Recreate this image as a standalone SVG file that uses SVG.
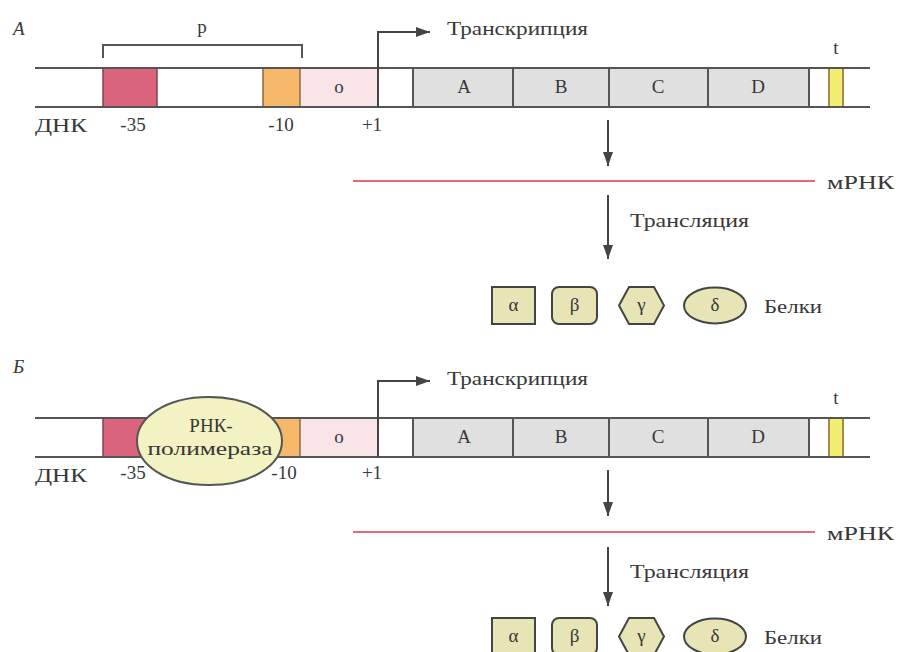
<svg xmlns="http://www.w3.org/2000/svg" width="897" height="652" viewBox="0 0 897 652">
<defs>
<style>
.t{font-family:"Liberation Serif","DejaVu Serif",serif;fill:#383838;font-size:19px}
.it{font-style:italic}
.c{text-anchor:middle}
.ln{stroke:#555;stroke-width:2;fill:none}
.gene{fill:#e0e0e0}
.p35{fill:#d9647c;stroke:#7c4452;stroke-width:1.5}
.p10{fill:#f6b96c;stroke:#8a6a40;stroke-width:1.5}
.op{fill:#f9e4e8}
.term{fill:#f1ee72;stroke:#a88a48;stroke-width:2}
.mrna{stroke:#e36a78;stroke-width:2}
.arr{stroke:#444;stroke-width:2;fill:none}
.prot{fill:#e7e5b5;stroke:#444;stroke-width:2}
.pol{fill:#f3f2c2;stroke:#555;stroke-width:2}
</style>
<marker id="ah" viewBox="0 0 14 10" refX="14" refY="5" markerWidth="14" markerHeight="10" markerUnits="userSpaceOnUse" orient="auto">
<path d="M0,0 L14,5 L0,10 Z" fill="#444"/>
</marker>
</defs>
<rect width="897" height="652" fill="#fff"/>

<!-- Panel A -->
<text class="t it" x="13" y="35" font-size="20">А</text>
<g id="A-promoter">
<path class="ln" d="M103,58 V45 H302 V58"/>
<text class="t c" x="202" y="33">р</text>
</g>
<g id="A-dna">
<rect class="p35" x="103" y="68" width="54" height="39"/>
<rect class="p10" x="263" y="68" width="37" height="39"/>
<rect class="op" x="301" y="68" width="76" height="39"/>
<rect class="gene" x="413" y="68" width="396" height="39"/>
<rect class="term" x="829" y="68" width="14" height="39"/>
<line class="ln" x1="35" y1="68" x2="870" y2="68"/>
<line class="ln" x1="35" y1="107" x2="870" y2="107"/>
<path class="ln" d="M413,68V107 M513,68V107 M609,68V107 M708,68V107 M809,68V107"/>
<text class="t c" x="339" y="93">o</text>
<text class="t c" x="464" y="93">A</text>
<text class="t c" x="561" y="93">B</text>
<text class="t c" x="658" y="93">C</text>
<text class="t c" x="758" y="93">D</text>
<text class="t c" x="836" y="54">t</text>
<text class="t" x="35" y="132" textLength="52" lengthAdjust="spacingAndGlyphs">ДНК</text>
<text class="t c" x="133" y="131" font-size="18">-35</text>
<text class="t c" x="281" y="131" font-size="18">-10</text>
<text class="t c" x="372" y="131" font-size="18">+1</text>
</g>
<g id="A-mrna">
<line class="mrna" x1="353" y1="181" x2="815" y2="181"/>
<text class="t" x="827" y="189" textLength="67" lengthAdjust="spacingAndGlyphs">мРНК</text>
</g>
<g id="A-proteins">
<rect class="prot" x="492" y="287" width="43" height="37"/>
<text class="t c" x="513.5" y="311" font-size="17">α</text>
<rect class="prot" x="552" y="287" width="45" height="37" rx="7"/>
<text class="t c" x="574.5" y="311" font-size="17">β</text>
<polygon class="prot" points="619,305.5 629,287 654,287 664,305.5 654,324 629,324"/>
<text class="t c" x="641.5" y="311" font-size="17">γ</text>
<ellipse class="prot" cx="715" cy="305.5" rx="31" ry="18"/>
<text class="t c" x="715" y="311" font-size="17">δ</text>
<text class="t" x="764" y="313" textLength="58" lengthAdjust="spacingAndGlyphs">Белки</text>
</g>
<g id="A-connectors">
<path class="arr" d="M378,107 V32 H430" marker-end="url(#ah)"/>
<text class="t" x="447" y="35" textLength="141" lengthAdjust="spacingAndGlyphs">Транскрипция</text>
<line class="arr" x1="608" y1="120" x2="608" y2="166" marker-end="url(#ah)"/>
<line class="arr" x1="608" y1="195" x2="608" y2="259" marker-end="url(#ah)"/>
<text class="t" x="630" y="227" textLength="119" lengthAdjust="spacingAndGlyphs">Трансляция</text>
</g>

<!-- Panel B -->
<text class="t it" x="13" y="373" font-size="20">Б</text>
<g id="B-dna">
<rect class="p35" x="103" y="418" width="54" height="39"/>
<rect class="p10" x="263" y="418" width="37" height="39"/>
<rect class="op" x="301" y="418" width="76" height="39"/>
<rect class="gene" x="413" y="418" width="396" height="39"/>
<rect class="term" x="829" y="418" width="14" height="39"/>
<line class="ln" x1="35" y1="418" x2="870" y2="418"/>
<line class="ln" x1="35" y1="457" x2="870" y2="457"/>
<path class="ln" d="M413,418V457 M513,418V457 M609,418V457 M708,418V457 M809,418V457"/>
<text class="t c" x="339" y="443">o</text>
<text class="t c" x="464" y="443">A</text>
<text class="t c" x="561" y="443">B</text>
<text class="t c" x="658" y="443">C</text>
<text class="t c" x="758" y="443">D</text>
<text class="t c" x="836" y="404">t</text>
<text class="t" x="35" y="482" textLength="52" lengthAdjust="spacingAndGlyphs">ДНК</text>
<text class="t c" x="133" y="479" font-size="18">-35</text>
<text class="t c" x="284" y="479" font-size="18">-10</text>
<text class="t c" x="372" y="479" font-size="18">+1</text>
</g>
<g id="B-polymerase">
<path class="pol" d="M209,397 C253,397 282,418 282,441 C282,464 253,485 209,485 C165,485 137,464 137,441 C137,418 165,397 209,397 Z"/>
<text class="t c" x="211" y="432" font-size="18">РНК-</text>
<text class="t c" x="210" y="455" font-size="18" textLength="125" lengthAdjust="spacingAndGlyphs">полимераза</text>
</g>
<g id="B-mrna">
<line class="mrna" x1="353" y1="532" x2="815" y2="532"/>
<text class="t" x="827" y="540" textLength="67" lengthAdjust="spacingAndGlyphs">мРНК</text>
</g>
<g id="B-proteins">
<rect class="prot" x="492" y="618" width="43" height="37"/>
<text class="t c" x="513.5" y="642" font-size="17">α</text>
<rect class="prot" x="552" y="618" width="45" height="37" rx="7"/>
<text class="t c" x="574.5" y="642" font-size="17">β</text>
<polygon class="prot" points="619,636.5 629,618 654,618 664,636.5 654,655 629,655"/>
<text class="t c" x="641.5" y="642" font-size="17">γ</text>
<ellipse class="prot" cx="715" cy="636.5" rx="31" ry="18"/>
<text class="t c" x="715" y="642" font-size="17">δ</text>
<text class="t" x="764" y="644" textLength="58" lengthAdjust="spacingAndGlyphs">Белки</text>
</g>
<g id="B-connectors">
<path class="arr" d="M378,457 V381 H430" marker-end="url(#ah)"/>
<text class="t" x="447" y="385" textLength="141" lengthAdjust="spacingAndGlyphs">Транскрипция</text>
<line class="arr" x1="608" y1="470" x2="608" y2="516" marker-end="url(#ah)"/>
<line class="arr" x1="608" y1="547" x2="608" y2="606" marker-end="url(#ah)"/>
<text class="t" x="630" y="578" textLength="119" lengthAdjust="spacingAndGlyphs">Трансляция</text>
</g>
</svg>
